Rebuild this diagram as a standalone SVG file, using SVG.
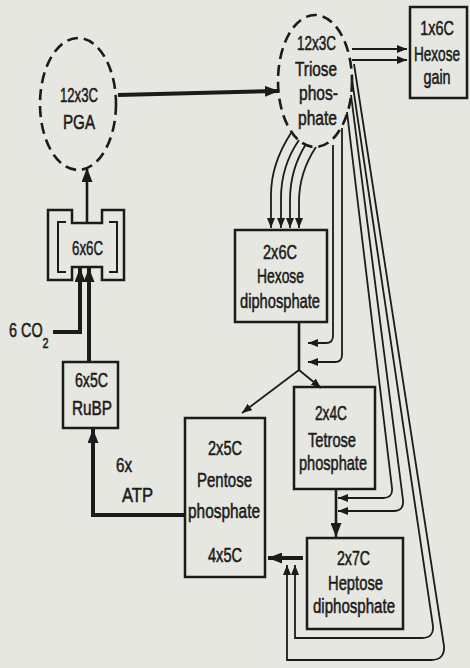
<svg xmlns="http://www.w3.org/2000/svg" width="470" height="668" viewBox="0 0 470 668">
<defs>
<style>
.bg{fill:#e7e7e1}
.box{fill:none;stroke:#1b1b1b;stroke-width:2.5}
.brk{fill:none;stroke:#1b1b1b;stroke-width:2}
.dash{fill:none;stroke:#1b1b1b;stroke-width:2.6;stroke-dasharray:11 6}
.t{font-family:"Liberation Sans",Arial,sans-serif;font-size:20px;fill:#1b1b1b;stroke:#1b1b1b;stroke-width:0.55}
.c{text-anchor:middle}
.big{font-size:21px}
.ln{fill:none;stroke:#1b1b1b;stroke-width:1.8}
.mid{fill:none;stroke:#1b1b1b;stroke-width:2.6}
.thk{fill:none;stroke:#1b1b1b;stroke-width:4}
</style>
<marker id="a" markerUnits="userSpaceOnUse" markerWidth="10" markerHeight="8" refX="10" refY="4" orient="auto"><path d="M0,0 L10,4 L0,8 Z" fill="#1b1b1b"/></marker>
<marker id="b" markerUnits="userSpaceOnUse" markerWidth="14" markerHeight="11" refX="14" refY="5.5" orient="auto"><path d="M0,0 L14,5.5 L0,11 Z" fill="#1b1b1b"/></marker>
</defs>
<rect class="bg" x="0" y="0" width="470" height="668"/>

<g id="connectors">
<line class="thk" x1="118" y1="95" x2="279" y2="91" marker-end="url(#b)"/>
<line class="ln" x1="352" y1="49" x2="407" y2="49" marker-end="url(#a)"/>
<line class="ln" x1="352" y1="60" x2="407" y2="60" marker-end="url(#a)"/>
<line class="mid" x1="87" y1="223" x2="87" y2="168" marker-end="url(#b)"/>
<path class="thk" d="M53,332 H80 V268" marker-end="url(#b)"/>
<path class="thk" d="M89,362 V268" marker-end="url(#b)"/>
<path class="thk" d="M185,515 H93 V429" marker-end="url(#b)"/>
<path class="ln" d="M291,133 C280,150 271,170 271,195 V228" marker-end="url(#a)"/>
<path class="ln" d="M299,140 C288,156 281,176 281,198 V228" marker-end="url(#a)"/>
<path class="ln" d="M306,144 C296,160 290,178 290,200 V228" marker-end="url(#a)"/>
<path class="ln" d="M316,147 C306,162 299,180 299,202 V228" marker-end="url(#a)"/>
<path class="ln" d="M333,145 V336 Q333,343 326,343 H308" marker-end="url(#a)"/>
<path class="ln" d="M342,128 V355 Q342,362 335,362 H308" marker-end="url(#a)"/>
<path class="mid" d="M299,322 V370"/>
<path class="ln" d="M299,370 L242,413" marker-end="url(#a)"/>
<path class="ln" d="M299,370 L321,388" marker-end="url(#a)"/>
<path class="ln" d="M347,112 L392,488 Q393,498 383,498 H338" marker-end="url(#a)"/>
<path class="ln" d="M351,95 L403,500 Q404,511 394,511 H338" marker-end="url(#a)"/>
<path class="ln" d="M352,80 L433,626 Q434,638 422,638 H295 V565" marker-end="url(#a)"/>
<path class="ln" d="M354,64 L444,646 Q445,660 431,660 H287 V565" marker-end="url(#a)"/>
<path class="mid" d="M336,490 V537" marker-end="url(#b)"/>
<path class="thk" d="M303,558 H268" marker-end="url(#b)"/>
</g>

<g id="pga">
<ellipse class="dash" cx="78" cy="104" rx="38" ry="66"/>
<text class="t big" x="60" y="102" textLength="38" lengthAdjust="spacingAndGlyphs">12x3C</text>
<text class="t big" x="63" y="129" textLength="32" lengthAdjust="spacingAndGlyphs">PGA</text>
</g>

<g id="triose">
<ellipse class="dash" cx="315" cy="81" rx="37" ry="66"/>
<text class="t" x="297" y="50" textLength="39" lengthAdjust="spacingAndGlyphs">12x3C</text>
<text class="t" x="295" y="76" textLength="42" lengthAdjust="spacingAndGlyphs">Triose</text>
<text class="t" x="299" y="100" textLength="39" lengthAdjust="spacingAndGlyphs">phos-</text>
<text class="t" x="298" y="125" textLength="39" lengthAdjust="spacingAndGlyphs">phate</text>
</g>

<g id="hexose-gain">
<rect class="box" x="410" y="7" width="57" height="91"/>
<text class="t c" transform="translate(437,35) scale(0.72,1)">1x6C</text>
<text class="t c" transform="translate(437,61) scale(0.68,1)">Hexose</text>
<text class="t c" transform="translate(437,84) scale(0.72,1)">gain</text>
</g>

<g id="six-6c">
<path class="box" d="M48,210 H72 V223 H102 V210 H124 V280 H102 V267 H72 V280 H48 Z"/>
<path class="brk" d="M66,222 H58 V272 H66 M109,222 H117 V272 H109"/>
<text class="t" x="72" y="255" textLength="31" lengthAdjust="spacingAndGlyphs">6x6C</text>
</g>

<g id="co2">
<text class="t" transform="translate(9,337) scale(0.72,1)">6 CO<tspan dy="11" style="font-size:15px">2</tspan></text>
</g>

<g id="rubp">
<rect class="box" x="63" y="362" width="55" height="66"/>
<text class="t" x="75" y="387" textLength="33" lengthAdjust="spacingAndGlyphs">6x5C</text>
<text class="t" x="72" y="415" textLength="40" lengthAdjust="spacingAndGlyphs">RuBP</text>
</g>

<g id="atp">
<text class="t" x="116" y="472" textLength="16" lengthAdjust="spacingAndGlyphs">6x</text>
<text class="t" x="122" y="502" textLength="31" lengthAdjust="spacingAndGlyphs">ATP</text>
</g>

<g id="hexose-diphosphate">
<rect class="box" x="235" y="230" width="92" height="92"/>
<text class="t" x="263" y="259" textLength="34" lengthAdjust="spacingAndGlyphs">2x6C</text>
<text class="t" x="257" y="283" textLength="47" lengthAdjust="spacingAndGlyphs">Hexose</text>
<text class="t" x="240" y="308" textLength="80" lengthAdjust="spacingAndGlyphs">diphosphate</text>
</g>

<g id="tetrose">
<rect class="box" x="294" y="387" width="81" height="102"/>
<text class="t" x="315" y="420" textLength="32" lengthAdjust="spacingAndGlyphs">2x4C</text>
<text class="t" x="308" y="447" textLength="48" lengthAdjust="spacingAndGlyphs">Tetrose</text>
<text class="t" x="299" y="470" textLength="68" lengthAdjust="spacingAndGlyphs">phosphate</text>
</g>

<g id="pentose">
<rect class="box" x="185" y="418" width="80" height="159"/>
<text class="t" x="208" y="455" textLength="34" lengthAdjust="spacingAndGlyphs">2x5C</text>
<text class="t" x="197" y="487" textLength="55" lengthAdjust="spacingAndGlyphs">Pentose</text>
<text class="t" x="188" y="518" textLength="72" lengthAdjust="spacingAndGlyphs">phosphate</text>
<text class="t" x="208" y="562" textLength="34" lengthAdjust="spacingAndGlyphs">4x5C</text>
</g>

<g id="heptose">
<rect class="box" x="307" y="538" width="96" height="91"/>
<text class="t" x="337" y="565" textLength="33" lengthAdjust="spacingAndGlyphs">2x7C</text>
<text class="t" x="328" y="590" textLength="55" lengthAdjust="spacingAndGlyphs">Heptose</text>
<text class="t" x="313" y="613" textLength="82" lengthAdjust="spacingAndGlyphs">diphosphate</text>
</g>
</svg>
